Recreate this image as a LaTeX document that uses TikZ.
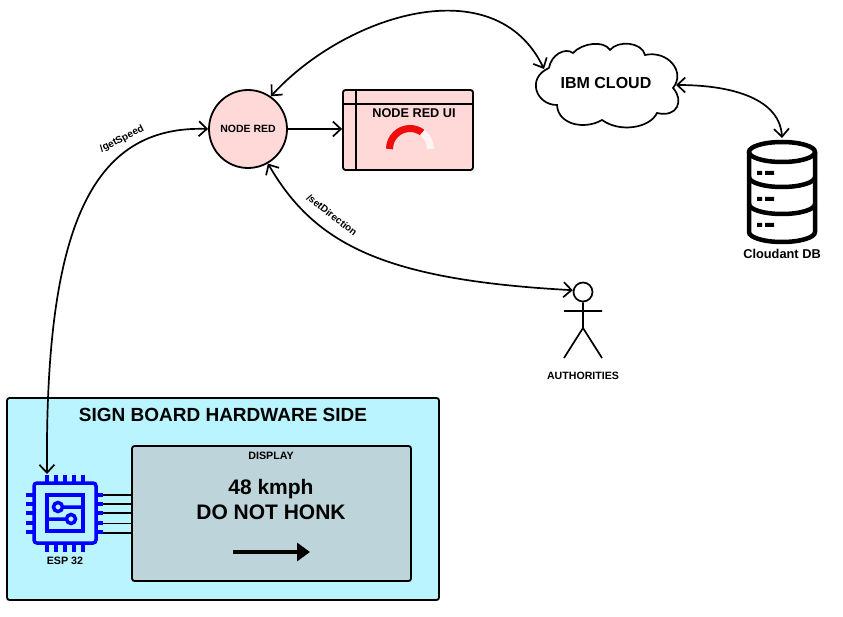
\documentclass[tikz,border=0pt]{standalone}
\usepackage{fontspec}
\setmainfont{Liberation Sans}
\usetikzlibrary{arrows.meta}
\tikzset{
	link/.style={line width=1.7pt, {Straight Barb[length=8pt,width=15pt]}-{Straight Barb[length=8pt,width=15pt]}},
	box/.style={draw, line width=1.8pt, rounded corners=2.5pt, inner sep=0pt},
	chipline/.style={draw=blue, line width=3.5pt},
	dbline/.style={line width=4.5pt},
	lbl/.style={font=\bfseries\fontsize{#1}{#1}\selectfont, inner sep=0pt}
}
\definecolor{boardcyan}{HTML}{B9F4FF}
\definecolor{displaygrey}{HTML}{BDD5DA}
\definecolor{nodepink}{HTML}{FFD8D8}
\definecolor{gaugered}{HTML}{EE0C0C}
\begin{document}
\begin{tikzpicture}[x=1pt,y=-1pt]
	\useasboundingbox (0,0) rectangle (843,617);
	% hardware side
	\node[box, fill=boardcyan, minimum width=432pt, minimum height=202pt] (board) at (223,499) {};
	\node[box, fill=displaygrey, minimum width=279pt, minimum height=135pt] (display) at (271.5,513.5) {};
	\node[lbl=19] (boardtitle) at (223,415) {SIGN BOARD HARDWARE SIDE};
	\node[lbl=10.7] (displaytitle) at (271,456) {DISPLAY};
	\node[lbl=21, align=center] (message) at (271,499.5) {48 kmph\\[4pt]DO NOT HONK};
	\draw[line width=4.5pt, -{Triangle[length=13pt,width=18pt]}] (233,552)--(310,552);
	% esp 32
	\node[box, draw=blue, line width=3.5pt, rounded corners=3pt, fill=none, minimum width=62pt, minimum height=60pt] (esp) at (65,513) {};
	\draw[chipline] (47,495) rectangle (83,531);
	\draw[chipline] (47,475)--(47,483) (56,475)--(56,483) (65,475)--(65,483) (74,475)--(74,483) (83,475)--(83,483);
	\draw[chipline] (47,543)--(47,552) (56,543)--(56,552) (65,543)--(65,552) (74,543)--(74,552) (83,543)--(83,552);
	\draw[chipline] (26,495)--(34,495) (26,504)--(34,504) (26,513)--(34,513) (26,523)--(34,523) (26,532)--(34,532);
	\draw[chipline] (96,495)--(103,495) (96,504)--(103,504) (96,513)--(103,513) (96,523)--(103,523) (96,532)--(103,532);
	\draw[chipline] (58,507) circle (4.5pt) (62.5,507)--(83,507);
	\draw[chipline] (71,519) circle (4.5pt) (47,519)--(66.5,519);
	\draw[line width=1.7pt] (103,495)--(132,495) (103,504)--(132,504) (103,513)--(132,513) (103,523.5)--(132,523.5) (103,533)--(132,533);
	\node[lbl=10.7] (esplabel) at (65,561) {ESP 32};
	\coordinate (esptop) at (47,474);
	% node red
	\node[circle, draw, line width=1.8pt, fill=nodepink, minimum size=78pt, inner sep=0pt, lbl=10.5] (nodered) at (248,129) {NODE RED};
	\node[box, fill=nodepink, minimum width=130pt, minimum height=80pt] (nodeui) at (408,130) {};
	\draw[line width=1.8pt] (343,104)--(473,104) (356,90)--(356,170);
	\node[lbl=12.7] (uititle) at (414,113) {NODE RED UI};
	\draw[line width=7pt, draw=gaugered] (389.5,149) arc[start angle=180, end angle=53, radius=20.5pt];
	\draw[line width=7pt, draw=white!70!nodepink] (422.3,132.6) arc[start angle=53, end angle=0, radius=20.5pt];
	% cloud
	\draw[line width=1.7pt, fill=white] (549,68) .. controls (551,55) and (565,47) .. (573,53)
		.. controls (582,43) and (604,40) .. (610,50)
		.. controls (618,40) and (642,42) .. (645,55)
		.. controls (668,50) and (686,72) .. (673,88)
		.. controls (684,100) and (678,118) .. (657,113)
		.. controls (650,128) and (620,133) .. (602,120)
		.. controls (585,130) and (558,125) .. (557,105)
		.. controls (536,105) and (526,78) .. (549,68);
	\node[lbl=16] (ibmcloud) at (606,83) {IBM CLOUD};
	\coordinate (cloudwest) at (544,69);
	\coordinate (cloudeast) at (676,85);
	% cloudant
	\draw[dbline] (749,152)--(749,232) arc[start angle=180, end angle=360, x radius=33pt, y radius=10pt]--(815,152);
	\draw[dbline] (782,152) ellipse (33pt and 10pt);
	\draw[dbline] (749,177) arc[start angle=180, end angle=360, x radius=33pt, y radius=10pt];
	\draw[dbline] (749,204) arc[start angle=180, end angle=360, x radius=33pt, y radius=10pt];
	\fill (757,171) rectangle (762,175) (765,171) rectangle (774,175);
	\fill (757,197) rectangle (762,201) (765,197) rectangle (774,201);
	\fill (757,223) rectangle (762,227) (765,223) rectangle (774,227);
	\node[lbl=12.8] (dblabel) at (782,254) {Cloudant DB};
	\coordinate (dbtop) at (782,138);
	% authorities
	\node[circle, draw, line width=1.7pt, minimum size=19pt, inner sep=0pt] (authhead) at (583,292) {};
	\draw[line width=1.7pt] (authhead.south)--(583,328) (564,311)--(602,311) (564,358)--(583,328)--(602,358);
	\node[lbl=10.6] (authlabel) at (583,376) {AUTHORITIES};
	% links
	\draw[link] (nodered.west) .. controls (90,125) and (45,230) .. (esptop);
	\draw[link] (nodered.55) .. controls (345,15) and (495,-33) .. (cloudwest);
	\draw[link] (nodered.-60) .. controls (315,245) and (385,280) .. (authhead.170);
	\draw[link] (cloudeast) .. controls (735,85) and (780,100) .. (dbtop);
	\draw[line width=1.7pt, -{Straight Barb[length=8pt,width=15pt]}] (nodered.east)--(nodered.east-|nodeui.west);
	\node[lbl=10, rotate=27] (getspeed) at (122,139) {/getSpeed};
	\node[lbl=10, rotate=-38] (setdirection) at (332,215) {/setDirection};
\end{tikzpicture}
\end{document}
